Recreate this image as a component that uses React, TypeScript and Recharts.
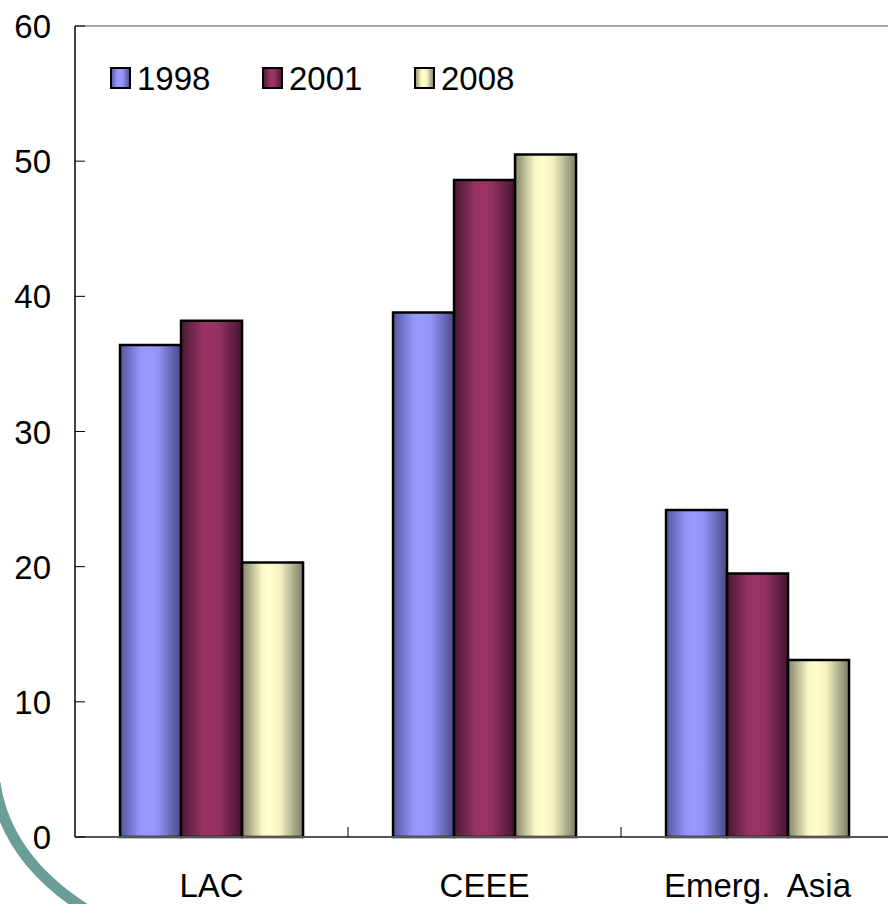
import React from 'react';
import { Bar, BarChart, ReferenceLine, XAxis, YAxis } from 'recharts';

const FONT = '"Liberation Sans", Arial, sans-serif';

const CATEGORIES = ['LAC', 'CEEE', 'Emerg.  Asia'];
const SERIES = ['1998', '2001', '2008'];
const VALUES_1998 = [36.4, 38.8, 24.2];
const VALUES_2001 = [38.2, 48.6, 19.5];
const VALUES_2008 = [20.3, 50.5, 13.1];
const Y_TICKS = [0, 10, 20, 30, 40, 50, 60];

// gradient stops per series: [offset, colour]
const GRADIENTS: Record<string, Array<[string, string]>> = {
  '1998': [
    ['0%', '#52569a'],
    ['32%', '#9494f8'],
    ['45%', '#9999ff'],
    ['62%', '#9393f6'],
    ['100%', '#484a84'],
  ],
  '2001': [
    ['0%', '#4a1830'],
    ['35%', '#963264'],
    ['48%', '#993366'],
    ['62%', '#923163'],
    ['100%', '#45142c'],
  ],
  '2008': [
    ['0%', '#84846a'],
    ['33%', '#f8f8c6'],
    ['45%', '#ffffcc'],
    ['62%', '#f4f4c2'],
    ['100%', '#7c7c64'],
  ],
};

const data = CATEGORIES.map((name, i) => ({
  name,
  '1998': VALUES_1998[i],
  '2001': VALUES_2001[i],
  '2008': VALUES_2008[i],
}));

const CHART_W = 900;
const CHART_H = 904;
const MARGIN = { top: 26, right: 6, bottom: 7, left: 15 };
const Y_AXIS_W = 60;
const BAND_W = (CHART_W - MARGIN.left - Y_AXIS_W - MARGIN.right) / CATEGORIES.length;

const gradientDefs = (prefix: string) => (
  <defs>
    {SERIES.map((s) => (
      <linearGradient key={s} id={`${prefix}${s}`} x1="0" y1="0" x2="1" y2="0">
        {GRADIENTS[s].map(([offset, color]) => (
          <stop key={offset} offset={offset} stopColor={color} />
        ))}
      </linearGradient>
    ))}
  </defs>
);

const YTick = (props: any) => {
  const { x, y, payload } = props;
  return (
    <g>
      <line x1={x} y1={y} x2={x + 10} y2={y} stroke="#000" strokeWidth={1} />
      <text
        x={x - 24}
        y={y + 12}
        textAnchor="end"
        fontSize={33}
        fontFamily={FONT}
        fill="#000"
      >
        {payload.value}
      </text>
    </g>
  );
};

const XTick = (props: any) => {
  const { x, y, payload, index } = props;
  const bx = x + BAND_W / 2;
  return (
    <g>
      {index < CATEGORIES.length - 1 && (
        <line x1={bx} y1={y} x2={bx} y2={y - 10} stroke="#000" strokeWidth={1} />
      )}
      <text
        x={x}
        y={y + 60}
        textAnchor="middle"
        fontSize={33}
        fontFamily={FONT}
        fill="#000"
        style={{ whiteSpace: 'pre' }}
      >
        {payload.value}
      </text>
    </g>
  );
};

export default function App() {
  return (
    <div
      style={{
        position: 'absolute',
        left: 0,
        top: 0,
        width: 888,
        height: 904,
        overflow: 'hidden',
        background: '#fff',
      }}
    >
      <svg
        width={888}
        height={904}
        style={{ position: 'absolute', left: 0, top: 0 }}
      >
        <path
          d="M -5 783 C 3 838, 38 880, 90 912"
          fill="none"
          stroke="#6b9d99"
          strokeWidth={11}
        />
      </svg>
      <div style={{ position: 'absolute', left: 0, top: 0 }}>
        <BarChart
          width={CHART_W}
          height={CHART_H}
          data={data}
          margin={MARGIN}
          barCategoryGap="16.5%"
          barGap={0}
        >
          {gradientDefs('bar')}
          <ReferenceLine y={60} stroke="#8a8a8a" strokeWidth={1.5} />
          <XAxis
            dataKey="name"
            height={60}
            interval={0}
            tickLine={false}
            tickSize={0}
            tickMargin={0}
            axisLine={{ stroke: '#555', strokeWidth: 2 }}
            tick={<XTick />}
          />
          <YAxis
            domain={[0, 60]}
            ticks={Y_TICKS}
            interval={0}
            width={Y_AXIS_W}
            tickLine={false}
            tickSize={0}
            tickMargin={0}
            axisLine={{ stroke: '#404040', strokeWidth: 2 }}
            tick={<YTick />}
          />
          {SERIES.map((s) => (
            <Bar
              key={s}
              dataKey={s}
              fill={`url(#bar${s})`}
              stroke="#000"
              strokeWidth={2.5}
              isAnimationActive={false}
            />
          ))}
        </BarChart>
      </div>
      <svg
        width={888}
        height={120}
        style={{ position: 'absolute', left: 0, top: 0 }}
      >
        {gradientDefs('leg')}
        {SERIES.map((s, i) => (
          <g key={s}>
            <rect
              x={111 + i * 152}
              y={68}
              width={19}
              height={20}
              fill={`url(#leg${s})`}
              stroke="#000"
              strokeWidth={2}
            />
            <text
              x={137 + i * 152}
              y={90}
              fontSize={33}
              fontFamily={FONT}
              fill="#000"
            >
              {s}
            </text>
          </g>
        ))}
      </svg>
    </div>
  );
}
